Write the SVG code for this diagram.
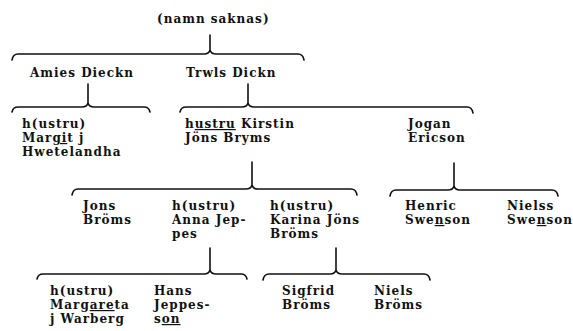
<svg xmlns="http://www.w3.org/2000/svg" width="573" height="331" viewBox="0 0 573 331">
<style>
text{font-family:"DejaVu Serif","Liberation Serif",serif;font-weight:bold;font-size:12px;letter-spacing:1px;fill:#111}
.u{text-decoration:underline}
.br{fill:none;stroke:#111;stroke-width:1.6;stroke-linecap:round;stroke-linejoin:round}
</style>
<rect width="573" height="331" fill="#fff"/>
<g id="connectors">
<path class="br" d="M210,35 L210,50 M12,60 Q13,54 18,54 L204,54 Q209,54 210,50 Q211,54 216,54 L298,54 Q303,54 304,60"/>
<path class="br" d="M88,84 L88,103 M12,112 Q13,107 18,107 L82,107 Q87,107 88,103 Q89,107 94,107 L144,107 Q149,107 150,112"/>
<path class="br" d="M248,84 L248,103 M180,112 Q181,107 186,107 L242,107 Q247,107 248,103 Q249,107 254,107 L467,107 Q472,107 473,113"/>
<path class="br" d="M252,162 L252,185 M72,195 Q73,189 78,189 L246,189 Q251,189 252,185 Q253,189 258,189 L351,189 Q356,189 357,195"/>
<path class="br" d="M454,163 L454,186 M390,196 Q391,190 396,190 L448,190 Q453,190 454,186 Q455,190 460,190 L552,190 Q557,190 558,196"/>
<path class="br" d="M210,248 L210,270 M37,279 Q38,274 43,274 L204,274 Q209,274 210,270 Q211,274 216,274 L241,274 Q246,274 247,279"/>
<path class="br" d="M336,248 L336,270 M263,280 Q264,274 269,274 L330,274 Q335,274 336,270 Q337,274 342,274 L424,274 Q429,274 430,280"/>
</g>
<g id="n-root"><text x="157" y="23">(namn saknas)</text></g>
<g id="n-amies"><text x="30" y="77">Amies Dieckn</text></g>
<g id="n-trwls"><text x="186" y="77">Trwls Dickn</text></g>
<g id="n-margit"><text x="22" y="128">h(ustru)</text><text x="22" y="142">Mar<tspan class="u">gi</tspan>t j</text><text x="22" y="156">Hwetelandha</text></g>
<g id="n-kirstin"><text x="185" y="128">h<tspan class="u">ustru</tspan> Kirstin</text><text x="185" y="142">Jöns Bryms</text></g>
<g id="n-jogan"><text x="408" y="128">Jogan</text><text x="408" y="142">Ericson</text></g>
<g id="n-jons"><text x="83" y="210">Jons</text><text x="83" y="224">Bröms</text></g>
<g id="n-anna"><text x="172" y="210">h(ustru)</text><text x="172" y="224">Anna Jep-</text><text x="172" y="238">pes</text></g>
<g id="n-karina"><text x="270" y="210">h(ustru)</text><text x="270" y="224">Karina Jöns</text><text x="270" y="238">Bröms</text></g>
<g id="n-henric"><text x="405" y="210">Henric</text><text x="405" y="224">Swe<tspan class="u">n</tspan>son</text></g>
<g id="n-nielss"><text x="507" y="210">Nielss</text><text x="507" y="224">Swe<tspan class="u">n</tspan>son</text></g>
<g id="n-margareta"><text x="50" y="295">h(ustru)</text><text x="50" y="309">Marg<tspan class="u">are</tspan>ta</text><text x="50" y="323">j Warberg</text></g>
<g id="n-hans"><text x="154" y="295">Hans</text><text x="154" y="309">Jeppes-</text><text x="154" y="323">s<tspan class="u">on</tspan></text></g>
<g id="n-sigfrid"><text x="282" y="295">Sigfrid</text><text x="282" y="309">Bröms</text></g>
<g id="n-niels"><text x="374" y="295">Niels</text><text x="374" y="309">Bröms</text></g>
</svg>
